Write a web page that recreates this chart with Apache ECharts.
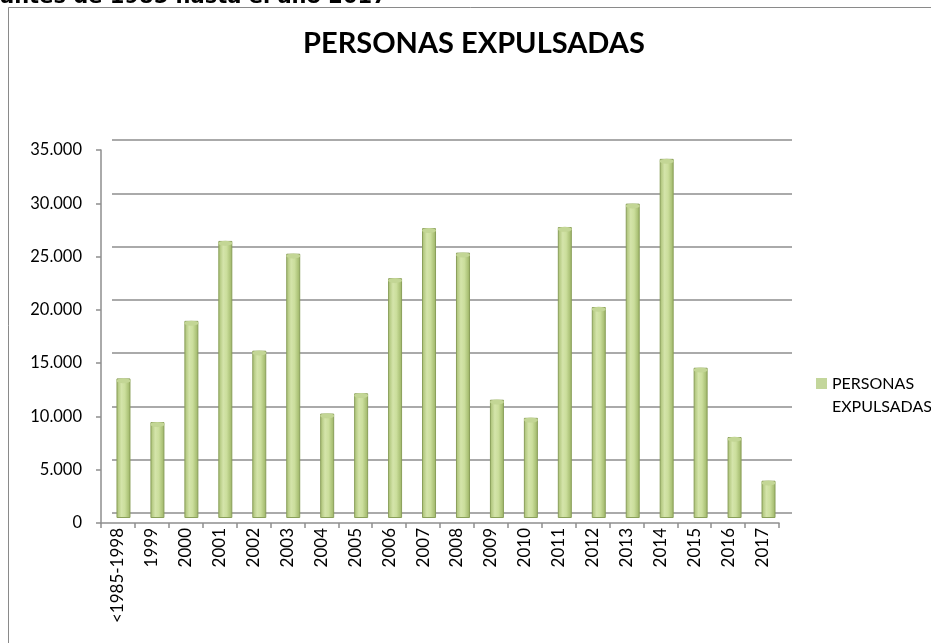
<!DOCTYPE html>
<html>
<head>
<meta charset="utf-8">
<script src="https://cdn.jsdelivr.net/npm/echarts@6/dist/echarts.min.js"></script>
<style>html,body{margin:0;padding:0;background:#fff;}#c{width:931px;height:643px;}</style>
</head>
<body>
<div id="c"></div>
<script>
var categories = ['<1985-1998','1999','2000','2001','2002','2003','2004','2005','2006','2007','2008','2009','2010','2011','2012','2013','2014','2015','2016','2017'];
var expulsadas = [13100,9000,18500,26000,15700,24800,9800,11700,22500,27200,24900,11100,9400,27300,19800,29500,33700,14100,7600,3500];
var seriesName = 'PERSONAS EXPULSADAS';
var chartTitle = 'PERSONAS EXPULSADAS';
var headerText = 'antes de 1985 hasta el año 2017';

var FONT = 'Lato, "Liberation Sans", sans-serif';
var gridGray = '#8e8e8e';
function fmt(v){ return String(v).replace(/\B(?=(\d{3})+(?!\d))/g, '.'); }

var chart = echarts.init(document.getElementById('c'), null, {renderer:'canvas'});
var barGrad = new echarts.graphic.LinearGradient(0,0,1,0,[
  {offset:0, color:'#a6bd70'},
  {offset:0.35, color:'#d4e4aa'},
  {offset:0.6, color:'#cbde9c'},
  {offset:1, color:'#9bb364'}
]);
var option = {
  animation:false,
  backgroundColor:'#ffffff',
  title:{text:chartTitle, left:298, top:24, textStyle:{fontFamily:FONT, fontWeight:'bold', fontSize:29, color:'#000'}},
  legend:{
    data:[{name:seriesName, itemStyle:{color:'#c3d69b', borderWidth:0}}],
    orient:'vertical', left:811, top:344, icon:'rect', itemWidth:11, itemHeight:11, itemGap:4,
    formatter:function(){ return ' \nPERSONAS\nEXPULSADAS'; },
    textStyle:{fontFamily:FONT, fontSize:16, color:'#000', lineHeight:23}
  },
  graphic:[
    {type:'text', left:0, top:-13, style:{text:headerText, font:'bold 21px "DejaVu Sans"', fill:'#000'}},
    {type:'rect', shape:{x:8.5, y:7.5, width:940, height:660}, style:{fill:null, stroke:'#8a8a8a', lineWidth:1}, silent:true}
  ],
  grid:[
    {left:112, right:139, top:140, bottom:130},
    {left:101, right:152, top:150, bottom:120},
    {left:106.5, right:145.5, top:145, bottom:125}
  ],
  xAxis:[
    {gridIndex:0, type:'category', data:categories, show:false},
    {gridIndex:1, type:'category', data:categories,
      axisLine:{show:true, lineStyle:{color:gridGray, width:1.5}},
      axisTick:{show:true, length:5, lineStyle:{color:gridGray, width:1.5}},
      axisLabel:{rotate:90, margin:5, interval:0, fontFamily:FONT, fontSize:17, color:'#000'}},
    {gridIndex:2, type:'category', data:categories, show:false}
  ],
  yAxis:[
    {gridIndex:0, type:'value', min:0, max:35000, interval:5000,
      axisLine:{show:false}, axisTick:{show:false}, axisLabel:{show:false},
      splitLine:{show:true, lineStyle:{color:gridGray, width:1.5}}},
    {gridIndex:1, type:'value', min:0, max:35000, interval:5000,
      axisLine:{show:true, lineStyle:{color:gridGray, width:1.5}},
      axisTick:{show:true, length:5, lineStyle:{color:gridGray, width:1.5}},
      axisLabel:{margin:19, fontFamily:FONT, fontSize:16.5, color:'#000', formatter:fmt},
      splitLine:{show:false}},
    {gridIndex:2, type:'value', min:0, max:35000, show:false, splitLine:{show:false}}
  ],
  series:[
    {name:seriesName, type:'bar', xAxisIndex:2, yAxisIndex:2, data:expulsadas, barWidth:14,
      itemStyle:{color:barGrad, borderColor:'#8a9f5a', borderWidth:1}, z:3},
    {name:'cap', type:'pictorialBar', xAxisIndex:2, yAxisIndex:2, data:expulsadas,
      symbol:'circle', symbolSize:[14,5], symbolPosition:'end', symbolOffset:[0,'-10%'],
      itemStyle:{color:'#c3d695', borderColor:'#8a9f5a', borderWidth:1}, z:4, silent:true}
  ]
};
chart.setOption(option);
</script>
</body>
</html>
